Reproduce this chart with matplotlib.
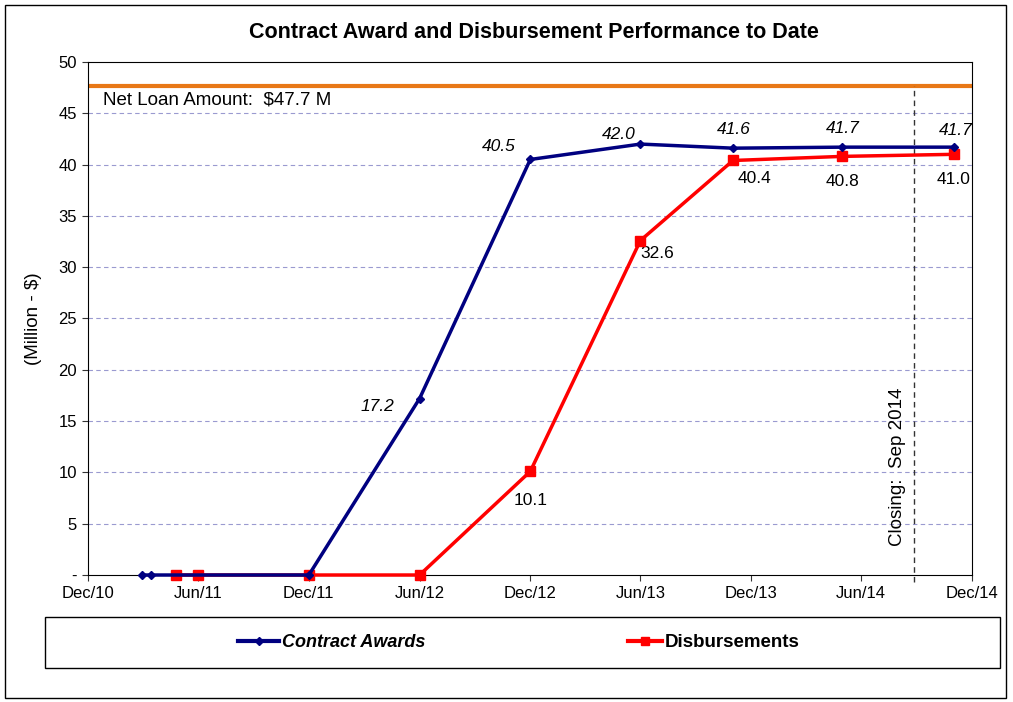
import numpy as np
import pandas as pd
import matplotlib
matplotlib.use("Agg")
import matplotlib.pyplot as plt
from matplotlib.patches import Rectangle
from matplotlib.lines import Line2D

plt.rcParams['font.family'] = ['Liberation Sans', 'DejaVu Sans']

# data
award_dates = pd.to_datetime(['2011-02-28', '2011-03-15', '2011-12-01', '2012-06-01',
                              '2012-12-01', '2013-06-01', '2013-11-01', '2014-05-01',
                              '2014-11-01'])
award_vals = [0, 0, 0, 17.2, 40.5, 42.0, 41.6, 41.7, 41.7]
award_labels = [None, None, None, '17.2', '40.5', '42.0', '41.6', '41.7', '41.7']

disb_dates = pd.to_datetime(['2011-04-25', '2011-06-01', '2011-12-01', '2012-06-01',
                             '2012-12-01', '2013-06-01', '2013-11-01', '2014-05-01',
                             '2014-11-01'])
disb_vals = [0, 0, 0, 0, 10.1, 32.6, 40.4, 40.8, 41.0]
disb_labels = [None, None, None, None, '10.1', '32.6', '40.4', '40.8', '41.0']

net_loan = 47.7
closing_date = pd.Timestamp('2014-08-28')
tick_dates = pd.date_range('2010-12-01', '2014-12-01', freq='6MS')
tick_labels = [d.strftime('%b/%y') for d in tick_dates]

# label offsets (pixels) for the data labels
award_off = [None, None, None, (-42, -8), (-32, 13), (-22, 10), (1, 19), (0, 19), (2, 17)]
disb_off = [None, None, None, None, (0, -29), (17, -13), (22, -18), (0, -25), (0, -25)]

fig = plt.figure(figsize=(10.13, 7.02), dpi=100)
ax = fig.add_axes([0.0869, 0.1809, 0.8726, 0.7308])

# outer border and legend box
fig.patches.append(Rectangle((0.005, 0.006), 0.988, 0.987, transform=fig.transFigure,
                             fill=False, ec='black', lw=1.0))
fig.patches.append(Rectangle((0.0444, 0.0484), 0.9426, 0.0726, transform=fig.transFigure,
                             fill=False, ec='black', lw=1.0))

ax.set_ylim(0, 50)
ax.set_xlim(tick_dates[0], tick_dates[-1])
ax.set_yticks(np.arange(0, 51, 5))
ax.set_yticklabels(['-'] + [str(v) for v in range(5, 51, 5)])
ax.set_xticks(tick_dates)
ax.set_xticklabels(tick_labels)
ax.tick_params(labelsize=12, length=4, color='#333333', pad=4)
for y in range(5, 50, 5):
    ax.axhline(y, color='#9a9ad0', lw=0.8, ls=(0, (4, 3)), zorder=1)

ax.axhline(net_loan, color='#e87817', lw=3, zorder=2)
ax.text(tick_dates[0] + pd.Timedelta(days=25), 46.3, 'Net Loan Amount:  $47.7 M',
        fontsize=13.5, va='center', ha='left')

ax.plot([closing_date, closing_date], [-0.7, net_loan], color='#333333', lw=1,
        ls=(0, (4, 3)), clip_on=False, zorder=2)
ax.annotate('Closing:  Sep 2014', (closing_date, 2.8), xytext=(-8, 0),
            textcoords='offset pixels', rotation=90, ha='right', va='bottom',
            fontsize=13.5)

ax.plot(disb_dates, disb_vals, color='#ff0000', lw=2.5, marker='s', ms=7,
        clip_on=False, zorder=4)
ax.plot(award_dates, award_vals, color='#000080', lw=2.5, marker='D', ms=4.5,
        clip_on=False, zorder=5)

for d, v, lab, off in zip(award_dates, award_vals, award_labels, award_off):
    if lab:
        ax.annotate(lab, (d, v), xytext=off, textcoords='offset pixels',
                    ha='center', va='center', fontsize=12.5, style='italic')
for d, v, lab, off in zip(disb_dates, disb_vals, disb_labels, disb_off):
    if lab:
        ax.annotate(lab, (d, v), xytext=off, textcoords='offset pixels',
                    ha='center', va='center', fontsize=12.5)

ax.set_ylabel('(Million - $)', fontsize=13.5, labelpad=12)
fig.text(0.527, 0.953, 'Contract Award and Disbursement Performance to Date',
         ha='center', va='center', fontsize=15.5, fontweight='bold')

blue_h = Line2D([], [], color='#000080', lw=3, marker='D', ms=4)
red_h = Line2D([], [], color='#ff0000', lw=3, marker='s', ms=6)
leg1 = fig.legend([blue_h], ['Contract Awards'], loc='center left',
                  bbox_to_anchor=(0.226, 0.0847), frameon=False, borderpad=0,
                  handlelength=2.3, handletextpad=0.15,
                  prop={'size': 13, 'weight': 'bold', 'style': 'italic'})
leg2 = fig.legend([red_h], ['Disbursements'], loc='center left',
                  bbox_to_anchor=(0.611, 0.0847), frameon=False, borderpad=0,
                  handlelength=1.8, handletextpad=0.15,
                  prop={'size': 13.5, 'weight': 'bold'})

fig.savefig('out.png', dpi=100)
